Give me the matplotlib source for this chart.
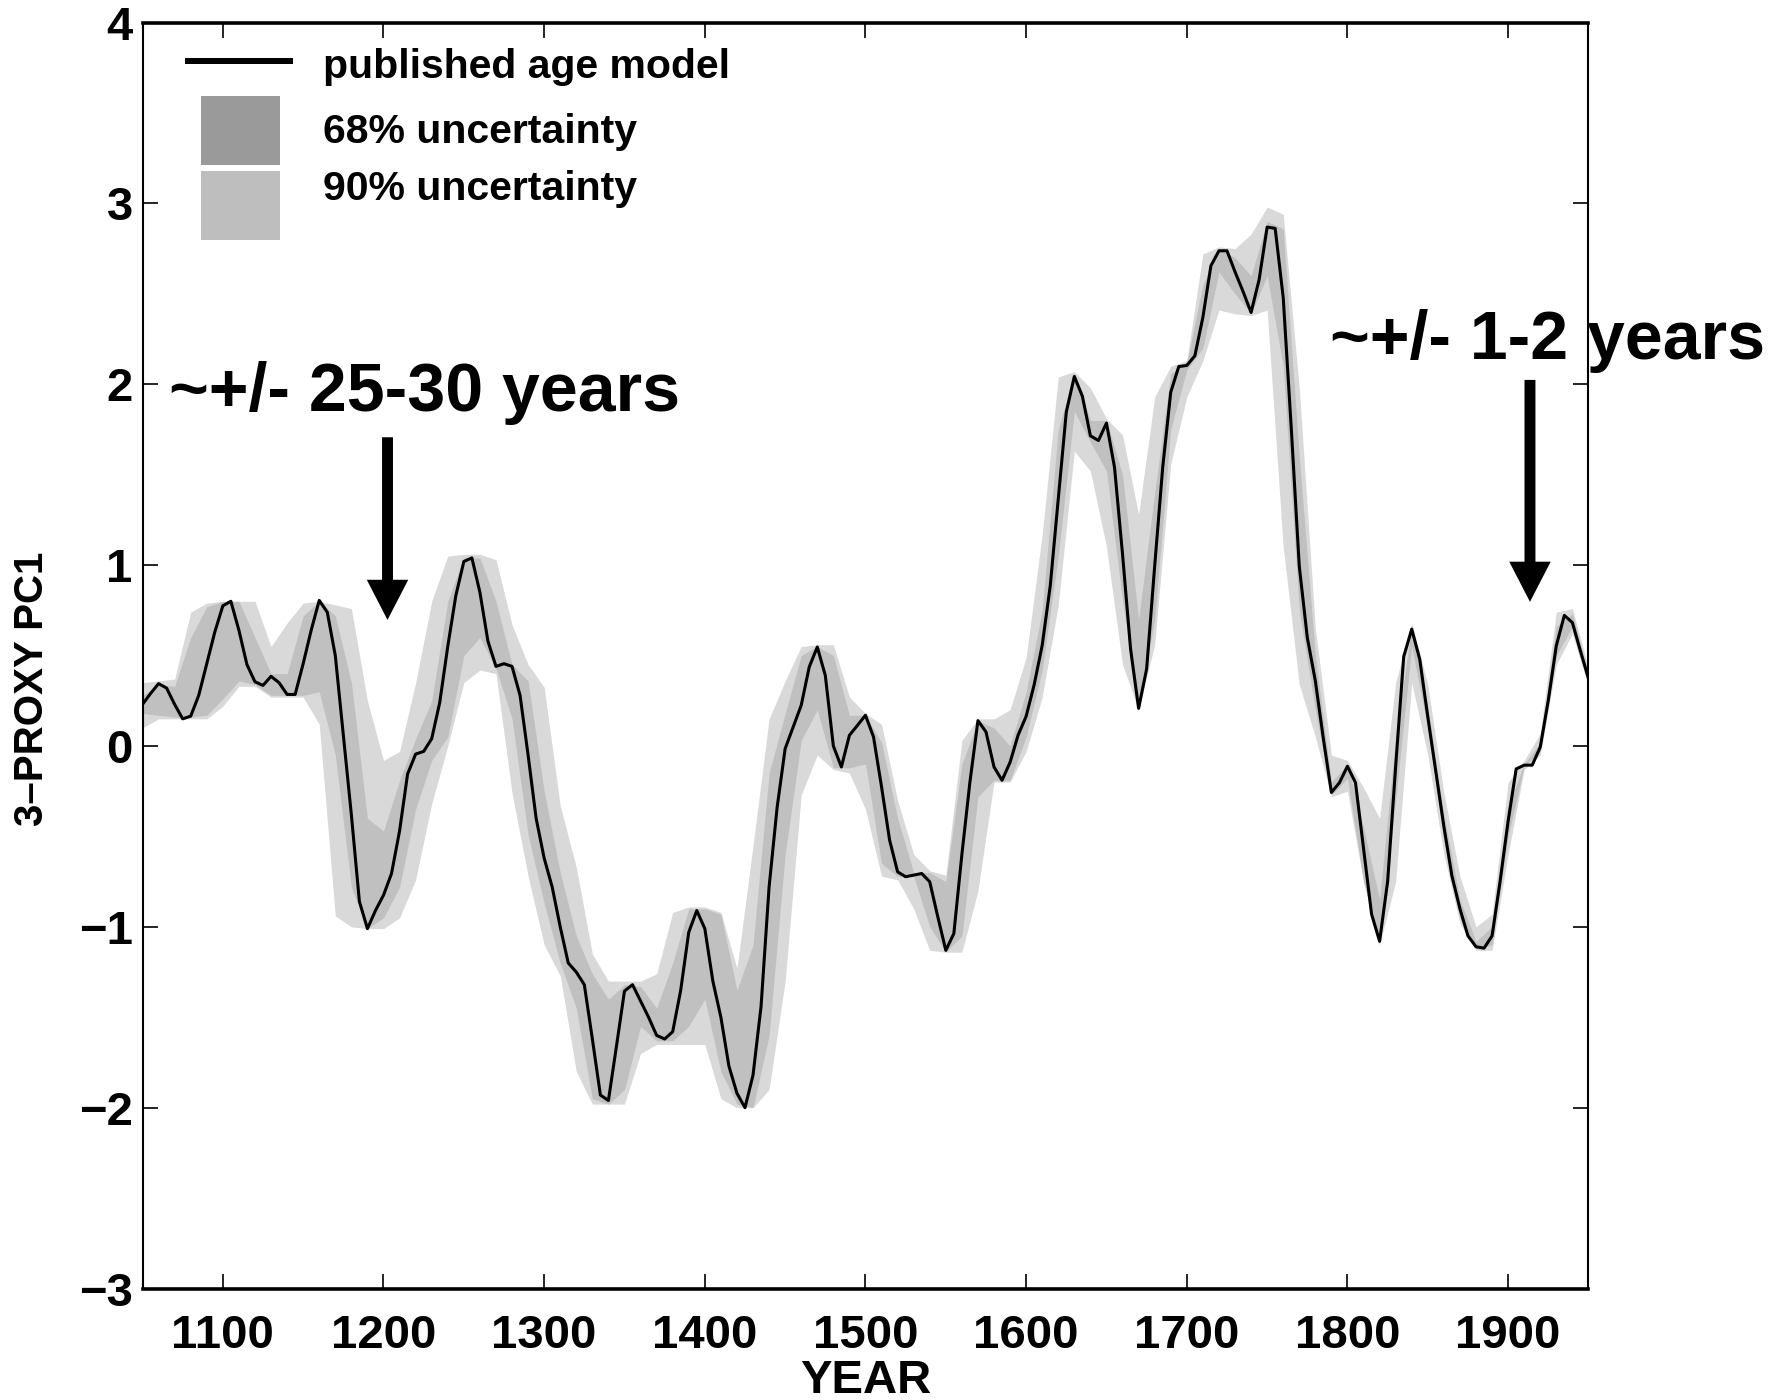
import numpy as np
import matplotlib
matplotlib.use('Agg')
import matplotlib.pyplot as plt
from matplotlib.patches import Rectangle

plt.rcParams['font.family'] = ['Liberation Sans', 'DejaVu Sans']
plt.rcParams['font.weight'] = 'bold'

# published age model, 5-year steps from 1050 to 1950
years = np.arange(1050, 1951, 5)
pc1 = [0.23, 0.29, 0.345, 0.32, 0.23, 0.15, 0.165, 0.28, 0.455, 0.63,
       0.775, 0.80, 0.64, 0.45, 0.355, 0.335, 0.385, 0.35, 0.285, 0.285,
       0.455, 0.64, 0.805, 0.74, 0.50, 0.06, -0.38, -0.86, -1.01, -0.91,
       -0.825, -0.705, -0.47, -0.155, -0.045, -0.03, 0.04, 0.24, 0.55, 0.83,
       1.02, 1.04, 0.85, 0.58, 0.44, 0.455, 0.44, 0.28, -0.05, -0.40,
       -0.62, -0.78, -1.0, -1.20, -1.25, -1.32, -1.62, -1.93, -1.96, -1.66,
       -1.355, -1.32, -1.41, -1.50, -1.60, -1.62, -1.58, -1.35, -1.03, -0.91,
       -1.01, -1.30, -1.50, -1.77, -1.92, -2.0, -1.82, -1.44, -0.78, -0.34,
       -0.015, 0.105, 0.225, 0.437, 0.547, 0.39, 0.0, -0.116, 0.059, 0.114,
       0.17, 0.05, -0.226, -0.52, -0.696, -0.723, -0.714, -0.705, -0.751, -0.944,
       -1.13, -1.037, -0.60, -0.20, 0.14, 0.078, -0.116, -0.19, -0.09, 0.06,
       0.164, 0.339, 0.557, 0.885, 1.366, 1.847, 2.043, 1.934, 1.715, 1.689,
       1.785, 1.541, 1.06, 0.536, 0.208, 0.426, 0.994, 1.54, 1.956, 2.098,
       2.104, 2.157, 2.37, 2.655, 2.738, 2.738, 2.622, 2.513, 2.397, 2.578,
       2.869, 2.862, 2.48, 1.76, 0.994, 0.60, 0.36, 0.04, -0.257, -0.203,
       -0.112, -0.203, -0.566, -0.93, -1.08, -0.75, -0.112, 0.494, 0.646, 0.479,
       0.161, -0.142, -0.445, -0.718, -0.90, -1.05, -1.11, -1.118, -1.05, -0.748,
       -0.415, -0.127, -0.106, -0.106, -0.006, 0.252, 0.555, 0.722, 0.682, 0.525,
       0.373]

# uncertainty envelopes, 10-year steps
band_years = np.arange(1050, 1951, 10)
lo90 = [0.10, 0.15, 0.15, 0.15, 0.15, 0.22, 0.33, 0.33, 0.27, 0.27,
        0.27, 0.12, -0.94, -1.00, -1.01, -1.01, -0.95, -0.74, -0.32, 0.00,
        0.35, 0.42, 0.40, -0.26, -0.72, -1.10, -1.27, -1.80, -1.98, -1.98,
        -1.98, -1.70, -1.65, -1.65, -1.65, -1.65, -1.95, -2.00, -2.00, -1.90,
        -1.30, -0.27, -0.05, -0.13, -0.15, -0.35, -0.72, -0.74, -0.90, -1.13,
        -1.14, -1.14, -0.80, -0.20, -0.20, -0.03, 0.27, 0.78, 1.63, 1.52,
        1.10, 0.45, 0.20, 0.56, 1.56, 1.93, 2.13, 2.41, 2.39, 2.38,
        2.41, 1.10, 0.34, 0.05, -0.28, -0.25, -0.75, -1.10, -0.75, 0.35,
        -0.05, -0.60, -0.98, -1.13, -1.13, -0.60, -0.13, -0.05, 0.45, 0.62,
        0.33]
lo68 = [0.18, 0.17, 0.16, 0.16, 0.17, 0.26, 0.36, 0.34, 0.28, 0.28,
        0.28, 0.30, -0.05, -0.78, -1.01, -0.95, -0.78, -0.35, -0.08, 0.05,
        0.50, 0.60, 0.43, 0.15, -0.49, -0.87, -1.20, -1.45, -1.95, -1.98,
        -1.90, -1.55, -1.63, -1.63, -1.55, -1.40, -1.80, -1.98, -2.00, -1.60,
        -0.60, 0.03, 0.20, -0.12, -0.12, -0.10, -0.65, -0.72, -0.72, -1.00,
        -1.14, -1.05, -0.28, -0.19, -0.19, 0.05, 0.42, 1.05, 1.85, 1.68,
        1.52, 0.80, 0.21, 0.70, 1.75, 2.08, 2.20, 2.62, 2.50, 2.39,
        2.60, 2.10, 0.75, 0.20, -0.27, -0.18, -0.75, -1.09, -0.30, 0.55,
        0.10, -0.52, -0.95, -1.12, -1.10, -0.50, -0.11, -0.03, 0.50, 0.66,
        0.35]
hi68 = [0.28, 0.34, 0.33, 0.60, 0.77, 0.80, 0.80, 0.60, 0.40, 0.40,
        0.72, 0.80, 0.72, 0.35, -0.40, -0.47, -0.19, 0.04, 0.25, 0.80,
        1.04, 1.04, 0.80, 0.45, 0.36, -0.25, -0.70, -1.05, -1.26, -1.40,
        -1.32, -1.33, -1.45, -1.20, -0.90, -0.90, -0.93, -1.35, -1.10, -0.15,
        0.18, 0.50, 0.55, 0.50, 0.17, 0.17, 0.02, -0.40, -0.70, -0.70,
        -0.75, -0.10, 0.14, 0.10, 0.00, 0.30, 0.75, 1.75, 2.06, 1.80,
        1.80, 1.50, 0.70, 1.40, 2.06, 2.12, 2.55, 2.75, 2.70, 2.60,
        2.90, 2.86, 1.60, 0.50, -0.20, -0.10, -0.45, -0.85, 0.05, 0.66,
        0.22, -0.38, -0.85, -1.08, -1.00, -0.33, -0.10, 0.02, 0.66, 0.73,
        0.40]
hi90 = [0.35, 0.36, 0.37, 0.74, 0.79, 0.80, 0.80, 0.80, 0.55, 0.68,
        0.79, 0.80, 0.78, 0.76, 0.25, -0.08, -0.03, 0.35, 0.80, 1.05,
        1.06, 1.06, 1.03, 0.67, 0.45, 0.325, -0.33, -0.67, -1.15, -1.30,
        -1.30, -1.30, -1.26, -0.92, -0.89, -0.89, -0.92, -1.23, -0.55, 0.15,
        0.36, 0.55, 0.56, 0.56, 0.27, 0.18, 0.12, -0.30, -0.60, -0.69,
        -0.715, 0.03, 0.15, 0.15, 0.20, 0.49, 1.17, 2.04, 2.07, 1.98,
        1.81, 1.72, 1.28, 1.93, 2.10, 2.13, 2.72, 2.76, 2.75, 2.83,
        2.98, 2.94, 1.98, 0.65, -0.05, -0.08, -0.23, -0.40, 0.35, 0.68,
        0.34, -0.26, -0.72, -1.00, -0.93, -0.20, -0.08, 0.07, 0.74, 0.76,
        0.43]

# annotations
notes = ['~+/- 25-30 years', '~+/- 1-2 years']
note_x = [1225.7, 1924.5]
note_y = [1.852, 2.14]
arrow_x = [1202.5, 1913.6]
arrow_top = [1.707, 2.024]
arrow_tip = [0.697, 0.797]

fig = plt.figure(figsize=(17.88, 14), dpi=100)
ax = fig.add_axes([0.0797, 0.0796, 0.8087, 0.9043])

ax.fill_between(band_years, lo90, hi90, color='#d9d9d9', lw=0)
ax.fill_between(band_years, lo68, hi68, color='#c0c0c0', lw=0)
ax.plot(years, pc1, color='k', lw=2.2)

ax.set_xlim(1050, 1950)
ax.set_ylim(-3, 4)
ax.set_xticks(range(1100, 1901, 100))
ax.set_yticks(range(-3, 5))
ax.tick_params(direction='in', length=11, width=1.2, top=True, right=True,
               labelsize=34, pad=7)
ax.tick_params(axis='x', pad=18)
for side in ['left', 'right']:
    ax.spines[side].set_linewidth(1.5)
for side in ['top', 'bottom']:
    ax.spines[side].set_linewidth(2.6)

ax.set_xlabel('YEAR', fontsize=34, fontweight='bold')
ax.xaxis.set_label_coords(0.5, -0.056)
ax.set_ylabel('3\u2013PROXY PC1', fontsize=29, fontweight='bold')
ax.yaxis.set_label_coords(-0.063, 0.474)

# legend drawn by hand
ax.plot([0.0297, 0.1044], [0.9698, 0.9698], transform=ax.transAxes,
        color='k', lw=4.3, solid_capstyle='butt')
ax.add_patch(Rectangle((0.0402, 0.8872), 0.0552, 0.0549,
                       transform=ax.transAxes, color='#9a9a9a', lw=0))
ax.add_patch(Rectangle((0.0402, 0.8286), 0.0552, 0.0541,
                       transform=ax.transAxes, color='#bebebe', lw=0))
for label, yy in zip(['published age model', '68% uncertainty', '90% uncertainty'],
                     [0.9562, 0.9046, 0.8595]):
    ax.text(0.1246, yy, label, transform=ax.transAxes, fontsize=29.5,
            fontweight='bold', va='baseline', ha='left')

for txt, tx, ty in zip(notes, note_x, note_y):
    ax.text(tx, ty, txt, fontsize=49, fontweight='bold', ha='center',
            va='baseline', clip_on=False)
for xa, y0, y1 in zip(arrow_x, arrow_top, arrow_tip):
    ax.arrow(xa, y0, 0, y1 - y0, width=6.8, head_width=25.8, head_length=0.222,
             length_includes_head=True, color='k', lw=0, zorder=5)

fig.savefig('out.png', dpi=100)
